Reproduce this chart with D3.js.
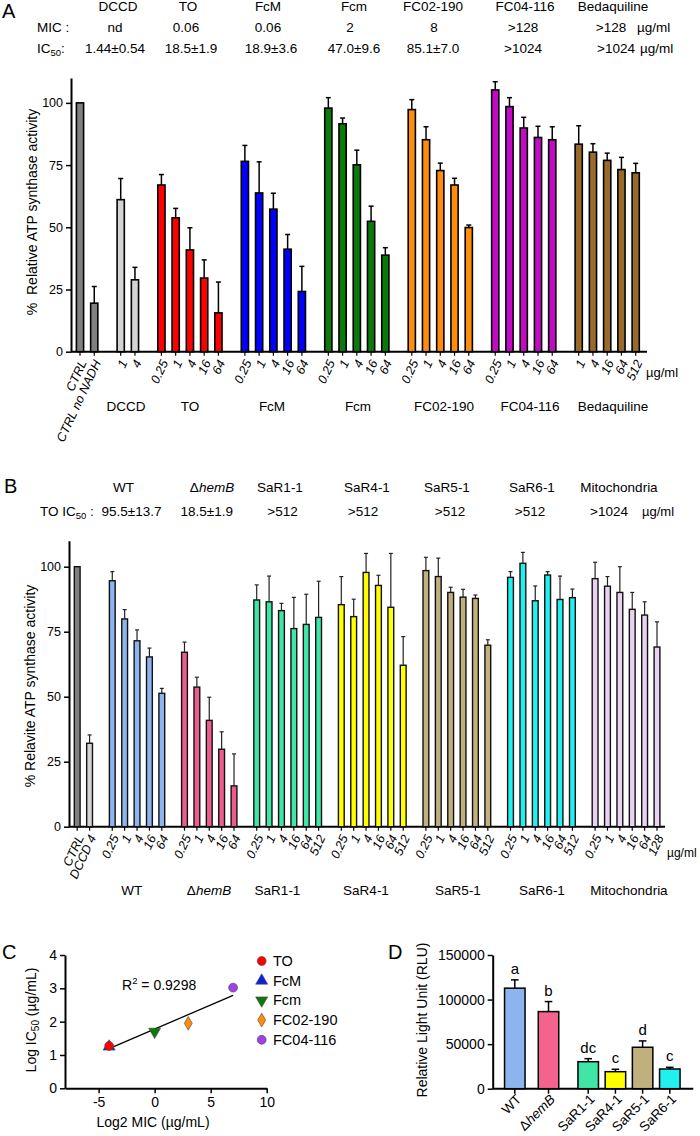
<!DOCTYPE html>
<html><head><meta charset="utf-8">
<script src="https://cdn.jsdelivr.net/npm/d3@7"></script>
<style>
body{margin:0;background:#fff}
text{font-family:Arial,"Liberation Sans",Helvetica,sans-serif;fill:#000;white-space:pre}
</style>
</head><body>
<svg id="c" width="700" height="1136"></svg>
<script>
// ================= DATA =================
// Panel A
const aGroups = ["CTRL","DCCD","TO","FcM","Fcm","FC02-190","FC04-116","Bedaquiline"];
const aDoses = [["CTRL","CTRL no NADH"],["1","4"],["0.25","1","4","16","64"],["0.25","1","4","16","64"],
  ["0.25","1","4","16","64"],["0.25","1","4","16","64"],["0.25","1","4","16","64"],["1","4","16","64","512"]];
const aValues = [[100,19.5],[61.1,28.9],[67.0,53.8,40.9,29.6,15.6],[76.5,63.8,57.3,41.2,24.2],
  [97.9,91.6,75.1,52.4,38.8],[97.3,85.2,72.8,67.0,49.9],[105.2,98.5,89.9,86.1,85.2],[83.4,80.2,76.9,73.2,71.9]];
const aErrors = [[0,6.7],[8.5,5.0],[4.2,3.8,8.9,7.3,12.4],[6.4,12.5,6.4,5.9,10.1],
  [4.2,2.3,5.9,6.1,3.0],[4.0,5.2,3.0,2.7,1.0],[3.3,3.6,4.3,4.5,5.2],[7.4,3.4,2.9,4.9,3.8]];
const aHeadNames = ["DCCD","TO","FcM","Fcm","FC02-190","FC04-116","Bedaquiline"];
const aMIC = ["nd","0.06","0.06","2","8",">128",">128"];
const aIC50 = ["1.44±0.54","18.5±1.9","18.9±3.6","47.0±9.6","85.1±7.0",">1024",">1024"];
const yTicksPct = [0,25,50,75,100];

// Panel B
const bGroups = ["CTRL","WT","ΔhemB","SaR1-1","SaR4-1","SaR5-1","SaR6-1","Mitochondria"];
const bDoses = [["CTRL","DCCD 4"],["0.25","1","4","16","64"],["0.25","1","4","16","64"],
  ["0.25","1","4","16","64","512"],["0.25","1","4","16","64","512"],["0.25","1","4","16","64","512"],
  ["0.25","1","4","16","64","512"],["0.25","1","4","16","64","128"]];
const bValues = [[100,32.1],[94.6,79.9,71.5,65.3,51.3],[67.1,53.7,40.9,29.8,15.7],
  [87.2,86.5,83.1,76.2,77.8,80.5],[85.4,80.8,97.8,92.8,84.4,62.1],[98.5,96.2,90.1,88.3,87.8,69.8],
  [95.9,101.3,86.9,96.8,87.4,88.1],[95.4,92.5,90.1,83.6,81.4,69.1]];
const bErrors = [[0,3.2],[3.5,3.6,4.2,3.4,1.9],[3.9,3.8,8.9,6.7,12.3],
  [5.8,9.9,2.8,12.0,11.6,13.9],[10.8,6.7,7.3,3.9,20.7,11.0],[5.1,7.1,2.0,3.0,1.3,2.1],
  [2.2,4.2,5.7,1.3,9.0,3.3],[6.3,3.7,9.9,6.5,5.1,9.7]];
const bHeadNames = ["WT","ΔhemB","SaR1-1","SaR4-1","SaR5-1","SaR6-1","Mitochondria"];
const bTOIC50 = ["95.5±13.7","18.5±1.9",">512",">512",">512",">512",">1024"];

// Panel C
const cCompounds = ["TO","FcM","Fcm","FC02-190","FC04-116"];
const cLog2MIC = [-4.06,-4.06,0,3,7];
const cLogIC50 = [1.27,1.25,1.70,1.95,3.02];
const cFit = [[-4.06,1.19],[7,2.79]];
const cR2 = "0.9298";
const cXTicks = [-5,0,5,10];
const cYTicks = [0,1,2,3,4];

// Panel D
const dStrains = ["WT","ΔhemB","SaR1-1","SaR4-1","SaR5-1","SaR6-1"];
const dRLU = [112800,86500,30300,19100,46500,22100];
const dErr = [9300,11250,3400,2700,7100,1900];
const dLetters = ["a","b","dc","c","d","c"];
const dYTicks = [0,50000,100000,150000];

// ================= STYLE / LAYOUT =================
const aColors = ["#808080","#d3d3d3","#ff0000","#0000ff","#0a7a0a","#ff8c0a","#c40ac4","#9a6a2a"];
const bColors = [["#808080","#d3d3d3"],"#8cb4ee","#ec5d8c","#40e6a6","#ffff00","#bfb07e","#22f0f0","#ead2f2"];
const cColors = ["#ff0000","#1020e0","#0a7a0a","#ff8c0a","#a040e8"];
const dColors = ["#8cb4ee","#f4628e","#40e6a6","#ffff00","#bfb07e","#22f0f0"];

const svg = d3.select("#c");

function rich(sel, str){
  if (str.startsWith("Δ")) {
    sel.append("tspan").text("Δ");
    sel.append("tspan").attr("font-style","italic").text(str.slice(1));
  } else sel.text(str);
}

function barPanel(o){
  const g = svg.append("g");
  const bars = [];
  o.values.forEach((grp, gi) => grp.forEach((v, j) => {
    const idx = bars.length;
    bars.push({gi, j, v, e:o.errors[gi][j], dose:o.doses[gi][j], slot: idx + gi*o.gap,
      color: Array.isArray(o.colors[gi]) ? o.colors[gi][j] : o.colors[gi]});
  }));
  const x = d3.scaleLinear().domain([0, bars[bars.length-1].slot]).range([o.x0, o.x1]);
  const y = d3.scaleLinear().domain([0,110]).range([o.y0, o.yTop]);

  g.append("line").attr("x1",o.axisX).attr("x2",o.xEnd).attr("y1",o.y0).attr("y2",o.y0)
    .attr("stroke","#000").attr("stroke-width",2);
  g.selectAll(".xt").data(bars).join("line")
    .attr("x1",d=>x(d.slot)).attr("x2",d=>x(d.slot)).attr("y1",o.y0).attr("y2",o.y0+4)
    .attr("stroke","#000").attr("stroke-width",1.2);

  g.selectAll(".bar").data(bars).join("rect")
    .attr("x",d=>x(d.slot)-o.bw/2).attr("width",o.bw)
    .attr("y",d=>y(d.v)).attr("height",d=>o.y0-y(d.v))
    .attr("fill",d=>d.color).attr("stroke",o.barStroke).attr("stroke-width",o.sw);
  const eb = bars.filter(d=>d.e>0);
  g.selectAll(".ev").data(eb).join("line")
    .attr("x1",d=>x(d.slot)).attr("x2",d=>x(d.slot)).attr("y1",d=>y(d.v)).attr("y2",d=>y(d.v+d.e))
    .attr("stroke",o.errStroke).attr("stroke-width",o.esw);
  g.selectAll(".ec").data(eb).join("line")
    .attr("x1",d=>x(d.slot)-o.cap/2).attr("x2",d=>x(d.slot)+o.cap/2).attr("y1",d=>y(d.v+d.e)).attr("y2",d=>y(d.v+d.e))
    .attr("stroke",o.errStroke).attr("stroke-width",o.esw);

  const ya = g.append("g").attr("transform",`translate(${o.axisX},0)`)
    .call(d3.axisLeft(y).tickValues(yTicksPct).tickSize(5).tickSizeOuter(0).tickPadding(3));
  ya.select(".domain").attr("stroke-width",2);
  ya.selectAll(".tick line").attr("stroke-width",1.5);
  ya.selectAll("text").attr("font-size",12.5).attr("font-family",null).style("fill","#000");

  g.selectAll(".tl").data(bars).join("text")
    .attr("transform",d=>`translate(${x(d.slot)+o.lblDx},${o.y0+o.lblDy}) rotate(-65)`)
    .attr("text-anchor","end").attr("dy","0.35em").attr("font-size",12.5).attr("font-style","italic")
    .text(d=>d.dose);

  o.groupLabelX.forEach((gx,i)=>{
    const t = g.append("text").attr("x",gx).attr("y",o.groupLabelY).attr("text-anchor","middle").attr("font-size",13.5);
    rich(t, o.groups[i+1]);
  });
  g.append("text").attr("x",o.unitX).attr("y",o.unitY).attr("font-size",o.unitFs).text("µg/ml");

  g.append("text").attr("transform",`translate(${o.titleX},${o.titleY}) rotate(-90)`)
    .attr("text-anchor","middle").attr("font-size",14).text(o.title);
  return {x,y};
}

// ---------- Panel A ----------
svg.append("text").attr("x",2).attr("y",18).attr("font-size",20).text("A");
const aHeadX = [118,188,268,354,433,525,613];
aHeadNames.forEach((t,i)=>svg.append("text").attr("x",aHeadX[i]).attr("y",11).attr("text-anchor","middle").attr("font-size",13.5).text(t));
svg.append("text").attr("x",37).attr("y",32).attr("font-size",13.5).text("MIC :");
const aMicX = [115,186,268,350,434,523,611];
aMIC.forEach((t,i)=>svg.append("text").attr("x",aMicX[i]).attr("y",32).attr("text-anchor","middle").attr("font-size",13.5).text(t));
svg.append("text").attr("x",637).attr("y",32).attr("font-size",13.5).text("µg/ml");
{
  const t = svg.append("text").attr("x",37).attr("y",53).attr("font-size",13.5);
  t.append("tspan").text("IC");
  t.append("tspan").attr("font-size",9.5).attr("dy",3).text("50");
  t.append("tspan").attr("dy",-3).text(":");
}
const aIcX = [115,191,271,354,433,523,616];
aIC50.forEach((t,i)=>svg.append("text").attr("x",aIcX[i]).attr("y",53).attr("text-anchor","middle").attr("font-size",13.5).text(t));
svg.append("text").attr("x",640).attr("y",53).attr("font-size",13.5).text("µg/ml");

barPanel({values:aValues, errors:aErrors, doses:aDoses, colors:aColors, groups:aGroups, gap:0.857,
  x0:80, x1:635.7, y0:351.7, yTop:78, axisX:71, xEnd:647, bw:7.2, sw:1.6, barStroke:"#000",
  errStroke:"#000", esw:1.5, cap:5, lblDx:3, lblDy:9,
  groupLabelX:[126,190,272,358,444,530,613], groupLabelY:411, unitX:646, unitY:377, unitFs:13,
  titleX:37, titleY:212, title:"%  Relative ATP synthase activity"});

// ---------- Panel B ----------
svg.append("text").attr("x",4).attr("y",493).attr("font-size",20).text("B");
const bHeadX = [123.5,212,280,367,447,532,619];
bHeadNames.forEach((t,i)=>{
  const el = svg.append("text").attr("x",bHeadX[i]).attr("y",492).attr("text-anchor","middle").attr("font-size",13.5);
  rich(el,t);
});
{
  const t = svg.append("text").attr("x",40).attr("y",516).attr("font-size",13.5);
  t.append("tspan").text("TO IC");
  t.append("tspan").attr("font-size",9.5).attr("dy",3).text("50");
  t.append("tspan").attr("dy",-3).text(" :");
}
const bIcX = [131.5,206.7,282.5,363,450,530,609];
bTOIC50.forEach((t,i)=>svg.append("text").attr("x",bIcX[i]).attr("y",516).attr("text-anchor","middle").attr("font-size",13.5).text(t));
svg.append("text").attr("x",642).attr("y",516).attr("font-size",13).text("µg/ml");

barPanel({values:bValues, errors:bErrors, doses:bDoses, colors:bColors, groups:bGroups, gap:0.833,
  x0:77.2, x1:657, y0:826.7, yTop:540.7, axisX:69, xEnd:665, bw:5.8, sw:1.4, barStroke:"#111",
  errStroke:"#222", esw:1.2, cap:4, lblDx:3, lblDy:9,
  groupLabelX:[131.7,209,277.5,366,458,542,629], groupLabelY:895, unitX:667, unitY:857, unitFs:12,
  titleX:35, titleY:686, title:"% Relavite ATP synthase activity"});

// ---------- Panel C ----------
svg.append("text").attr("x",2).attr("y",959).attr("font-size",20).text("C");
{
  const g = svg.append("g");
  const x = d3.scaleLinear().domain([-8,10]).range([65,266.7]);
  const y = d3.scaleLinear().domain([0,4]).range([1088.3,955]);
  const xa = g.append("g").attr("transform",`translate(0,${y(0)})`)
    .call(d3.axisBottom(x).tickValues(cXTicks).tickFormat(d=>String(d)).tickSize(5).tickSizeOuter(0).tickPadding(4));
  const ya = g.append("g").attr("transform",`translate(${x(-8)},0)`)
    .call(d3.axisLeft(y).tickValues(cYTicks).tickFormat(d=>String(d)).tickSize(5).tickSizeOuter(0).tickPadding(3));
  [xa,ya].forEach(a=>{
    a.select(".domain").attr("stroke-width",2);
    a.selectAll(".tick line").attr("stroke-width",1.5);
    a.selectAll("text").attr("font-size",14).attr("font-family",null).style("fill","#000");
  });
  g.append("line").attr("x1",x(cFit[0][0])).attr("y1",y(cFit[0][1])).attr("x2",x(cFit[1][0])).attr("y2",y(cFit[1][1]))
    .attr("stroke","#000").attr("stroke-width",1.3);
  const symType = [d3.symbolCircle,d3.symbolTriangle,d3.symbolTriangle,d3.symbolDiamond,d3.symbolCircle];
  const symRot = [0,0,180,0,0];
  const pts = cCompounds.map((n,i)=>({i,n,x:cLog2MIC[i],y:cLogIC50[i]})).reverse();
  g.selectAll(".pt").data(pts).join("path")
    .attr("d",d=>d3.symbol().type(symType[d.i]).size(d.i===3?55:62)())
    .attr("transform",d=>`translate(${x(d.x)},${y(d.y)}) rotate(${symRot[d.i]})`)
    .attr("fill",d=>cColors[d.i]).attr("stroke","#444").attr("stroke-width",0.6);
  const r = g.append("text").attr("x",122).attr("y",990).attr("font-size",14);
  r.append("tspan").text("R");
  r.append("tspan").attr("font-size",9.5).attr("dy",-6).text("2");
  r.append("tspan").attr("dy",6).text(" = "+cR2);
  cCompounds.forEach((n,i)=>{
    const ly = 961 + i*19.7;
    g.append("path").attr("d",d3.symbol().type(symType[i]).size(i===3?55:62)())
      .attr("transform",`translate(261.7,${ly}) rotate(${symRot[i]})`)
      .attr("fill",cColors[i]).attr("stroke","#444").attr("stroke-width",0.6);
    g.append("text").attr("x",273).attr("y",ly).attr("dy","0.35em").attr("font-size",14.5).text(n);
  });
  const yt = g.append("text").attr("transform","translate(36,1020) rotate(-90)").attr("text-anchor","middle").attr("font-size",14);
  yt.append("tspan").text("Log IC");
  yt.append("tspan").attr("font-size",10).attr("dy",3).text("50");
  yt.append("tspan").attr("dy",-3).text(" (µg/mL)");
  g.append("text").attr("x",153).attr("y",1127).attr("text-anchor","middle").attr("font-size",14).text("Log2 MIC (µg/mL)");
}

// ---------- Panel D ----------
svg.append("text").attr("x",388).attr("y",959).attr("font-size",20).text("D");
{
  const g = svg.append("g");
  const dSlot = [0,1.24,2.7,3.7,4.7,5.7];
  const x = d3.scaleLinear().domain([0,5.7]).range([514.8,669.8]);
  const y = d3.scaleLinear().domain([0,150000]).range([1088.7,955]);
  const bw = 20.5;
  g.append("line").attr("x1",492.7).attr("x2",693.3).attr("y1",y(0)).attr("y2",y(0)).attr("stroke","#000").attr("stroke-width",2);
  const data = dStrains.map((s,i)=>({s,i,v:dRLU[i],e:dErr[i],l:dLetters[i]}));
  g.selectAll(".xt").data(data).join("line").attr("x1",d=>x(dSlot[d.i])).attr("x2",d=>x(dSlot[d.i]))
    .attr("y1",y(0)).attr("y2",y(0)+5).attr("stroke","#000").attr("stroke-width",1.5);
  g.selectAll(".ev").data(data).join("line").attr("x1",d=>x(dSlot[d.i])).attr("x2",d=>x(dSlot[d.i]))
    .attr("y1",d=>y(d.v)).attr("y2",d=>y(d.v+d.e)).attr("stroke","#000").attr("stroke-width",1.5);
  g.selectAll(".ec").data(data).join("line").attr("x1",d=>x(dSlot[d.i])-3.8).attr("x2",d=>x(dSlot[d.i])+3.8)
    .attr("y1",d=>y(d.v+d.e)).attr("y2",d=>y(d.v+d.e)).attr("stroke","#000").attr("stroke-width",1.5);
  g.selectAll(".bar").data(data).join("rect")
    .attr("x",d=>x(dSlot[d.i])-bw/2).attr("width",bw).attr("y",d=>y(d.v)).attr("height",d=>y(0)-y(d.v))
    .attr("fill",d=>dColors[d.i]).attr("stroke","#000").attr("stroke-width",1.5);
  g.selectAll(".lt").data(data).join("text").attr("x",d=>x(dSlot[d.i])).attr("y",d=>y(d.v+d.e)-6)
    .attr("text-anchor","middle").attr("font-size",15).text(d=>d.l);
  const ya = g.append("g").attr("transform","translate(492.7,0)")
    .call(d3.axisLeft(y).tickValues(dYTicks).tickFormat(d=>String(d)).tickSize(5).tickSizeOuter(0).tickPadding(3));
  ya.select(".domain").attr("stroke-width",2);
  ya.selectAll(".tick line").attr("stroke-width",1.5);
  ya.selectAll("text").attr("font-size",14).attr("font-family",null).style("fill","#000");
  data.forEach(d=>{
    const t = g.append("text").attr("transform",`translate(${x(dSlot[d.i])+4},${y(0)+8}) rotate(-45)`)
      .attr("text-anchor","end").attr("dy","0.35em").attr("font-size",13.5);
    rich(t,d.s);
  });
  g.append("text").attr("transform","translate(427,1020) rotate(-90)").attr("text-anchor","middle")
    .attr("font-size",14).text("Relative Light Unit (RLU)");
}
</script>
</body></html>
